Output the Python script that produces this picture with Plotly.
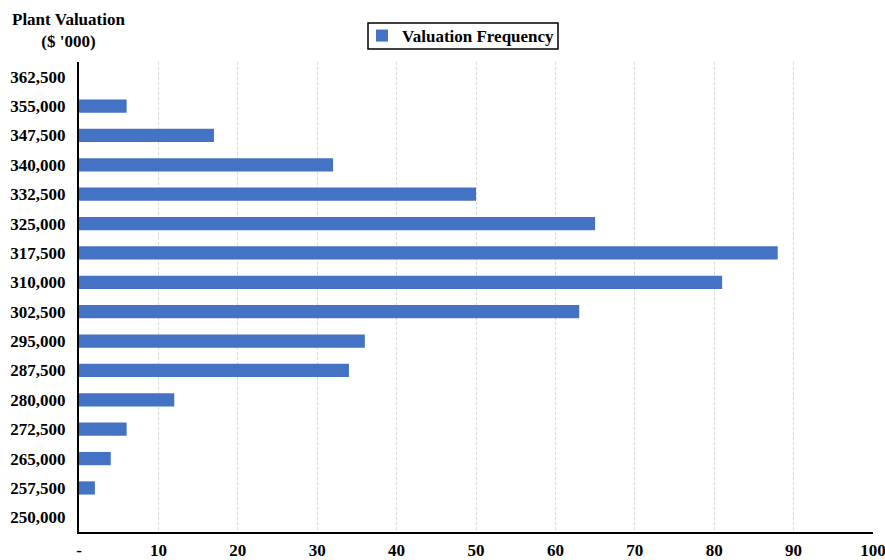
import plotly.graph_objects as go

categories = ["250,000", "257,500", "265,000", "272,500", "280,000", "287,500", "295,000",
              "302,500", "310,000", "317,500", "325,000", "332,500", "340,000", "347,500",
              "355,000", "362,500"]
frequency = [0, 2, 4, 6, 12, 34, 36, 63, 81, 88, 65, 50, 32, 17, 6, 0]
x_ticks = [0, 10, 20, 30, 40, 50, 60, 70, 80, 90, 100]
x_labels = ["-", "10", "20", "30", "40", "50", "60", "70", "80", "90", "100"]

font_family = "Liberation Serif"

fig = go.Figure()
fig.add_trace(go.Bar(
    y=categories, x=frequency, orientation="h",
    marker=dict(color="#4472C4", line=dict(width=0)),
    name="Valuation Frequency",
))

L, R, T, B = 79, 873, 62, 532
pw, ph = R - L, B - T

fig.update_layout(
    width=885, height=560,
    margin=dict(l=L, r=885 - R, t=T, b=560 - B),
    plot_bgcolor="white", paper_bgcolor="white",
    bargap=0.55,
    font=dict(family=font_family, size=17, color="black", weight=700),
    showlegend=True,
    legend=dict(
        x=(362 - L) / pw, y=(B - 36) / ph, xanchor="left", yanchor="middle",
        borderwidth=0, bgcolor="rgba(0,0,0,0)",
        font=dict(family=font_family, size=17, color="black", weight=700),
        itemwidth=30,
    ),
    xaxis=dict(
        range=[0, 100], tickmode="array", tickvals=x_ticks, ticktext=x_labels,
        showgrid=True, gridcolor="#d9d9d9", griddash="3px,2px", gridwidth=1,
        showline=True, linecolor="black", linewidth=2,
        zeroline=False, ticks="", ticklabelstandoff=2, automargin=False,
        ticklabeloverflow="allow",
        tickfont=dict(family=font_family, size=17, color="black", weight=700),
    ),
    yaxis=dict(
        type="category", categoryorder="array", categoryarray=categories,
        showgrid=False, showline=True, linecolor="black", linewidth=2,
        ticks="", ticklabelstandoff=8, automargin=False,
        tickfont=dict(family=font_family, size=17, color="black", weight=700),
    ),
    shapes=[
        dict(type="rect", xref="paper", yref="paper",
             x0=(368 - L) / pw, x1=(558 - L) / pw,
             y0=(B - 49) / ph, y1=(B - 23) / ph,
             line=dict(color="black", width=1.5), fillcolor="rgba(0,0,0,0)"),
    ],
    annotations=[
        dict(text="Plant Valuation<br>($ '000)", xref="paper", yref="paper",
             x=(68 - L) / pw, y=(B - 8) / ph, xanchor="center", yanchor="top",
             showarrow=False, align="center",
             font=dict(family=font_family, size=17, color="black", weight=700)),
    ],
)

fig.write_html("out.html")
